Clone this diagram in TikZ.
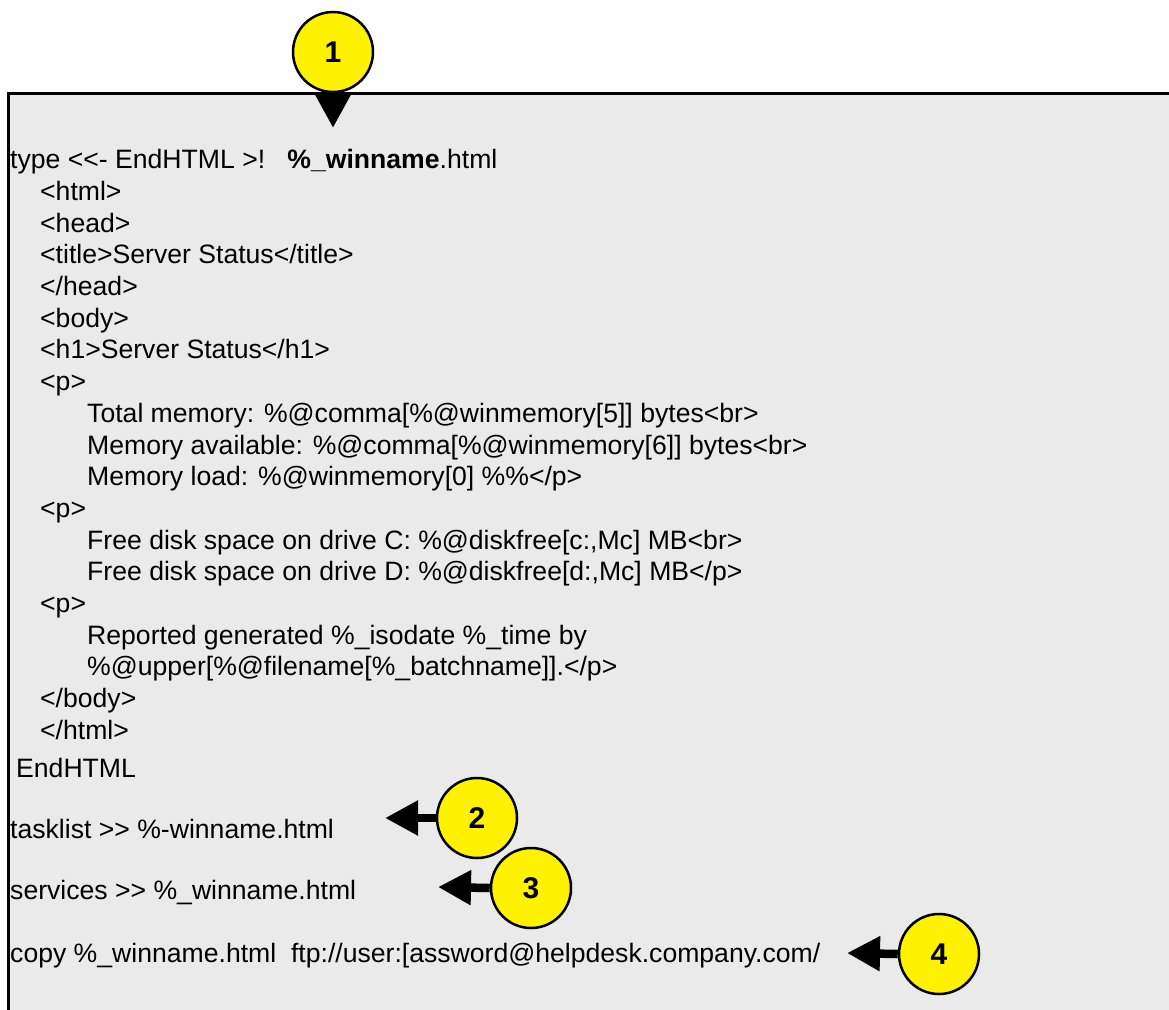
\documentclass[tikz,border=0pt]{standalone}
\usepackage{fontspec}
\setmainfont{Liberation Sans}
\usetikzlibrary{arrows.meta}
\begin{document}
\begin{tikzpicture}[x=1pt,y=-1pt,
  codeline/.style={anchor=base west,inner sep=0pt,font=\fontsize{26.6}{30}\selectfont},
  callout/.style={circle,draw=black,line width=2.5pt,fill=yellow,minimum size=80pt,inner sep=0pt,font=\fontsize{30}{32}\selectfont\bfseries},
  pointer/.style={line width=8.5pt,-{Triangle[length=33pt,width=33pt]}}]
\useasboundingbox (0,0) rectangle (1169,1009);
\fill[fill={rgb,255:red,234;green,234;blue,234}] (8,93) rectangle (1175,1015);
\draw[line width=3pt] (8,1015) -- (8,93) -- (1175,93);
\node[codeline] (l1) at (10,168) {type <\kern0pt<- EndHTML >!\ \ \ \textbf{\%\_winname}.html};
\node[codeline] (l2) at (40,200) {<html>};
\node[codeline] (l3) at (40,232) {<head>};
\node[codeline] (l4) at (40,263) {<title>Server Status</title>};
\node[codeline] (l5) at (40,295) {</head>};
\node[codeline] (l6) at (40,327) {<body>};
\node[codeline] (l7) at (40,358) {<h1>Server Status</h1>};
\node[codeline] (l8) at (40,390) {<p>};
\node[codeline] (l9) at (87,422) {Total memory: \%@comma[\%@winmemory[5]] bytes<br>};
\node[codeline] (l10) at (87,454) {Memory available: \%@comma[\%@winmemory[6]] bytes<br>};
\node[codeline] (l11) at (87,485) {Memory load: \%@winmemory[0] \%\%</p>};
\node[codeline] (l12) at (40,517) {<p>};
\node[codeline] (l13) at (87,549) {Free disk space on drive C: \%@diskfree[c:,Mc] MB<br>};
\node[codeline] (l14) at (87,580) {Free disk space on drive D: \%@diskfree[d:,Mc] MB</p>};
\node[codeline] (l15) at (40,612) {<p>};
\node[codeline] (l16) at (87,644) {Reported generated \%\_isodate \%\_time by};
\node[codeline] (l17) at (87,675) {\%@upper[\%@filename[\%\_batchname]].</p>};
\node[codeline] (l18) at (40,707) {</body>};
\node[codeline] (l19) at (40,739) {</html>};
\node[codeline] (l20) at (16,777) {EndHTML};
\node[codeline] (l21) at (10,838) {tasklist >\kern0pt> \%-winname.html};
\node[codeline] (l22) at (10,899) {services >\kern0pt> \%\_winname.html};
\node[codeline] (l23) at (10,962) {copy \%\_winname.html\ \ ftp://user:[assword@helpdesk.company.com/};
\node[callout] (c1) at (333,52) {1};
\node[callout] (c2) at (477,818) {2};
\node[callout] (c3) at (531,888) {3};
\node[callout] (c4) at (939,954) {4};
\coordinate (t1) at (333,128);
\coordinate (t2) at (385,818);
\coordinate (t3) at (438,887);
\coordinate (t4) at (847,953);
\draw[pointer] (c1.south) -- (t1);
\draw[pointer] (c2.west) -- (t2);
\draw[pointer] (c3.west) -- (t3);
\draw[pointer] (c4.west) -- (t4);
\end{tikzpicture}
\end{document}
